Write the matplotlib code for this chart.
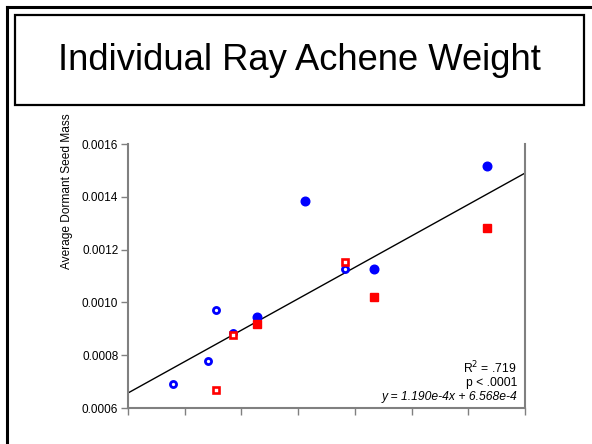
import matplotlib
matplotlib.use("Agg")
import matplotlib.pyplot as plt
from matplotlib.patches import Rectangle
from matplotlib.lines import Line2D
import numpy as np

plt.rcParams['font.family'] = ['Liberation Sans', 'DejaVu Sans']

title = "Individual Ray Achene Weight"
y_label = "Average Dormant Seed Mass"

blue_filled_x = [2.28, 3.12, 4.34, 6.33]
blue_filled_y = [0.000943, 0.001384, 0.001125, 0.001517]
blue_open_x = [0.80, 1.405, 1.55, 1.857, 3.83]
blue_open_y = [0.000691, 0.000779, 0.000972, 0.000885, 0.001127]
red_filled_x = [2.28, 4.34, 6.33]
red_filled_y = [0.000918, 0.001022, 0.001282]
red_open_x = [1.557, 1.857, 3.83]
red_open_y = [0.000667, 0.000875, 0.001154]

slope = 1.190e-4
intercept = 6.568e-4
stats_lines = ["R$^2$ = .719", "p < .0001"]
equation = "y = 1.190e-4x + 6.568e-4"

y_ticks = [0.0006, 0.0008, 0.0010, 0.0012, 0.0014, 0.0016]
y_tick_labels = ["0.0006", "0.0008", "0.0010", "0.0012", "0.0014", "0.0016"]
x_ticks = [0, 1, 2, 3, 4, 5, 6, 7]

W, H = 592, 444
fig = plt.figure(figsize=(W / 100, H / 100), dpi=100)

# outer frame lines (left and top)
fig.add_artist(Line2D([7 / W, 7 / W], [0, 1 - 7 / H], color='black', lw=2.2,
                      solid_capstyle='projecting', transform=fig.transFigure))
fig.add_artist(Line2D([7 / W, 1.01], [1 - 7 / H, 1 - 7 / H], color='black', lw=2.2,
                      solid_capstyle='projecting', transform=fig.transFigure))
# title box
fig.add_artist(Rectangle((15 / W, 1 - 105 / H), (584 - 15) / W, (105 - 15) / H,
                         transform=fig.transFigure, fill=False, ec='black', lw=1.6))
fig.text(299.5 / W, 1 - 60 / H, title, ha='center', va='center', fontsize=26.2)

ax = fig.add_axes([128 / W, 1 - 408 / H, (525 - 128) / W, (408 - 144) / H])
ax.set_xlim(0, 7)
ax.set_ylim(0.0006, 0.0016)

xs = np.array([0, 7])
ax.plot(xs, slope * xs + intercept, color='black', lw=1.0, zorder=2)

ax.plot(blue_filled_x, blue_filled_y, 'o', ms=6.2, mfc='#0000FF', mec='#0000FF', zorder=3)
ax.plot(blue_open_x, blue_open_y, 'o', ms=4.4, mfc='white', mec='#0000FF', mew=2.0, zorder=3)
ax.plot(red_filled_x, red_filled_y, 's', ms=5.4, mfc='#FF0000', mec='#FF0000', zorder=4)
ax.plot(red_open_x, red_open_y, 's', ms=4.0, mfc='white', mec='#FF0000', mew=1.9, zorder=4)

ax.set_xticks(x_ticks)
ax.set_xticklabels([])
ax.set_yticks(y_ticks)
ax.set_yticklabels(y_tick_labels, fontsize=8.5)
ax.tick_params(direction='out', length=5, width=1, color='#808080', pad=2)
ax.spines['top'].set_visible(False)
for s in ['left', 'bottom', 'right']:
    ax.spines[s].set_color('#808080')
    ax.spines[s].set_linewidth(1.5)

fig.text(67 / W, 1 - 191 / H, y_label, rotation=90, ha='center', va='center', fontsize=8.6)

ax.text(517 / W, 1 - 368 / H, stats_lines[0], transform=fig.transFigure, ha='right', va='center', fontsize=8.7)
ax.text(517 / W, 1 - 383 / H, stats_lines[1], transform=fig.transFigure, ha='right', va='center', fontsize=8.7)
ax.text(517 / W, 1 - 397 / H, equation, transform=fig.transFigure, ha='right', va='center', fontsize=8.7, style='italic')

fig.savefig("out.png", dpi=100)
